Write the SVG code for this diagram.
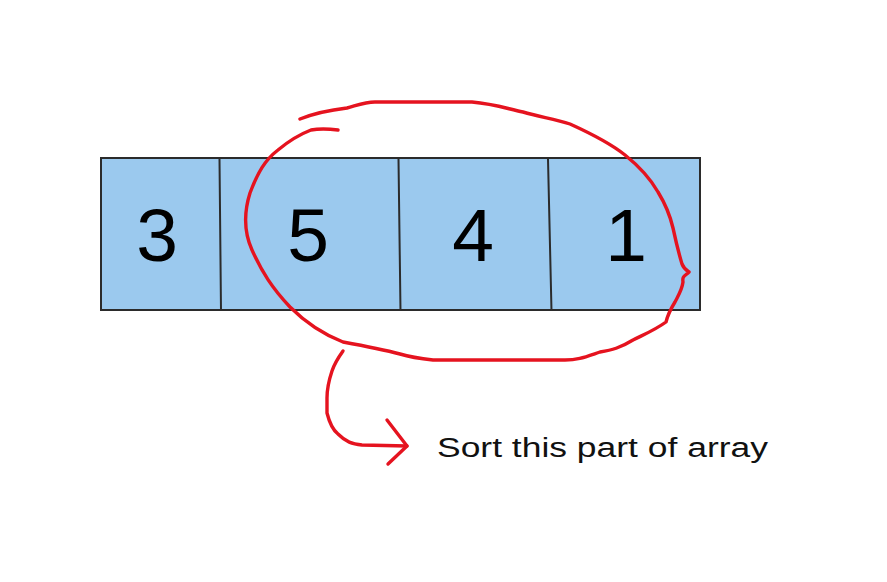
<svg xmlns="http://www.w3.org/2000/svg" width="887" height="582" viewBox="0 0 887 582">
<style>
.cell{fill:#9bc9ee;stroke:#2b2b2b;stroke-width:2}
.div{stroke:#2b2b2b;stroke-width:2;fill:none}
.num{font-family:"Liberation Sans",Arial,sans-serif;font-size:75px;fill:#000;text-anchor:middle}
.ink{fill:none;stroke:#e5131f;stroke-width:3.4;stroke-linecap:round;stroke-linejoin:round}
.note{font-family:"Liberation Sans",Arial,sans-serif;font-size:27px;fill:#111}
</style>
<rect width="887" height="582" fill="#fff"/>
<g id="array">
<rect class="cell" x="101" y="158" width="599" height="152"/>
<path class="div" d="M219.5 159 L221 311 M398.5 159 L400.5 311 M548 159 L551.5 311"/>
</g>
<g id="n3"><text class="num" x="157" y="261">3</text></g>
<g id="n5"><text class="num" x="308" y="261">5</text></g>
<g id="n4"><text class="num" x="473" y="261">4</text></g>
<g id="n1"><text class="num" x="626" y="261">1</text></g>
<g id="connectors">
<path class="ink" d="M300 119 C315 113 330 110 347 108 C358 105 365 102 375 102 L472 102 C495 104 508 109 523 112 C540 117 555 119 570 124 C592 134 610 143 625 155 C640 167 650 178 658 192 C666 205 670 215 673 228 C676 242 679 254 682 264 C684 269 686 270 689 272 C685 276 682 276 683 282 C682 290 678 296 675 302 C670 310 668 314 666 322 C655 330 645 334 633 340 C620 348 612 350 600 352 C585 357 578 360 565 360 L433 360 C415 358 410 357 400 354 C385 350 365 346 343 342 C320 333 305 322 290 307 C272 288 262 272 252 250 C244 232 244 212 250 193 C258 172 265 160 278 150 C290 140 298 135 311 130 C322 128 330 129 338 130"/>
<path class="ink" d="M343 351 C338 358 334 365 332 371 C329 380 327 388 327 398 L327 413 C330 425 333 430 338 434 C346 442 352 444 362 445 L407 446"/>
<path class="ink" d="M387 420 L407 446 L388 464"/>
</g>
<g id="label"><text class="note" x="437" y="457" textLength="331" lengthAdjust="spacingAndGlyphs">Sort this part of array</text></g>
</svg>
